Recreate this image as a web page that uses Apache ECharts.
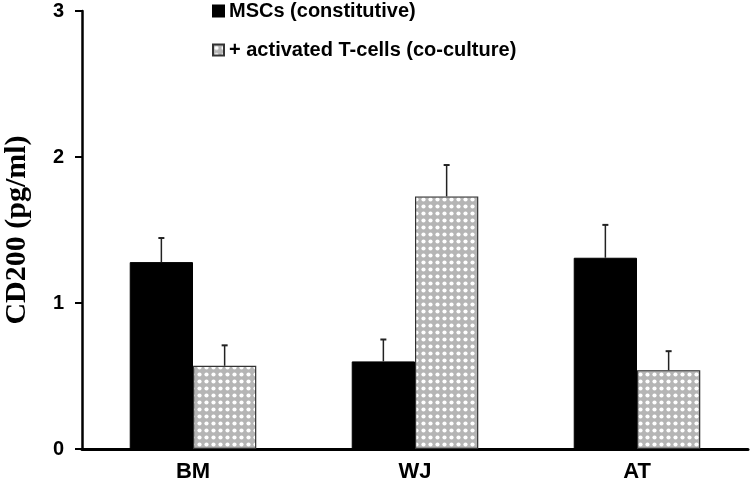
<!DOCTYPE html>
<html><head><meta charset="utf-8">
<script src="https://cdn.jsdelivr.net/npm/echarts@6/dist/echarts.min.js"></script>
<style>html,body{margin:0;padding:0;background:#fff}#c{width:750px;height:483px}</style>
</head><body><div id="c"></div>
<script>
const categories = ['BM', 'WJ', 'AT'];
const seriesNames = ['MSCs (constitutive)', '+ activated T-cells (co-culture)'];
const mscValues = [1.28, 0.60, 1.31];
const mscErrors = [0.165, 0.15, 0.225];
const coValues = [0.57, 1.73, 0.54];
const coErrors = [0.14, 0.215, 0.13];
const yTicks = [0, 1, 2, 3];

function makePattern() {
  const c = document.createElement('canvas');
  c.width = 7; c.height = 7;
  const g = c.getContext('2d');
  g.fillStyle = '#b5b5b5';
  g.fillRect(0, 0, 7, 7);
  g.fillStyle = '#ffffff';
  g.beginPath(); g.arc(3.5, 3.5, 2.1, 0, Math.PI * 2); g.fill();
  return c;
}
const pat = { image: makePattern(), repeat: 'repeat' };

function errSeries(vals, errs, idx) {
  return {
    type: 'custom',
    z: 5,
    silent: true,
    data: vals.map((v, i) => [i, v, v + errs[i]]),
    renderItem: function (params, api) {
      const ci = api.value(0);
      const base = api.coord([ci, api.value(1)]);
      const top = api.coord([ci, api.value(2)]);
      const band = api.size([1, 0])[0];
      const bw = band * 0.57 / 2;
      const x = base[0] + (idx === 0 ? -bw / 2 : bw / 2);
      const st = { stroke: '#222', lineWidth: 1.5 };
      return {
        type: 'group',
        children: [
          { type: 'line', shape: { x1: x, y1: base[1], x2: x, y2: top[1] }, style: st },
          { type: 'line', shape: { x1: x - 3, y1: top[1], x2: x + 3, y2: top[1] }, style: { stroke: '#222', lineWidth: 2 } }
        ]
      };
    }
  };
}

const chart = echarts.init(document.getElementById('c'));
chart.setOption({
  animation: false,
  grid: { left: 82, right: 2, top: 11, bottom: 34, containLabel: false, outerBoundsMode: 'none' },
  legend: {
    orient: 'vertical',
    left: 207, top: -4,
    itemWidth: 11, itemHeight: 11, itemGap: 19,
    textStyle: { fontFamily: 'Liberation Sans, Arial', fontWeight: 'bold', fontSize: 20, color: '#000', padding: [0, 0, 0, 0] },
    data: [
      { name: seriesNames[0], icon: 'rect' },
      { name: seriesNames[1], icon: 'rect' }
    ]
  },
  xAxis: {
    type: 'category',
    data: categories,
    axisLine: { lineStyle: { color: '#000', width: 3 } },
    axisTick: { show: false },
    axisLabel: { fontFamily: 'Liberation Sans, Arial', fontWeight: 'bold', fontSize: 22, color: '#000', margin: 12 }
  },
  yAxis: {
    type: 'value',
    min: yTicks[0], max: yTicks[yTicks.length - 1], interval: 1,
    name: 'CD200 (pg/ml)',
    nameLocation: 'middle',
    nameGap: 50,
    nameTextStyle: { fontFamily: 'Liberation Serif, Times New Roman', fontWeight: 'bold', fontSize: 30, color: '#000' },
    axisLine: { show: true, lineStyle: { color: '#000', width: 2.5 } },
    axisTick: { show: true, length: 7, lineStyle: { color: '#000', width: 2 } },
    splitLine: { show: false },
    axisLabel: { fontFamily: 'Liberation Sans, Arial', fontWeight: 'bold', fontSize: 20, color: '#000', margin: 18 }
  },
  series: [
    {
      name: seriesNames[0], type: 'bar', data: mscValues,
      barGap: '0%', barCategoryGap: '43%',
      itemStyle: { color: '#000', borderColor: '#000', borderWidth: 1 }
    },
    {
      name: seriesNames[1], type: 'bar', data: coValues,
      itemStyle: { color: pat, borderColor: '#333', borderWidth: 1.2 }
    },
    errSeries(mscValues, mscErrors, 0),
    errSeries(coValues, coErrors, 1)
  ]
});
</script></body></html>
